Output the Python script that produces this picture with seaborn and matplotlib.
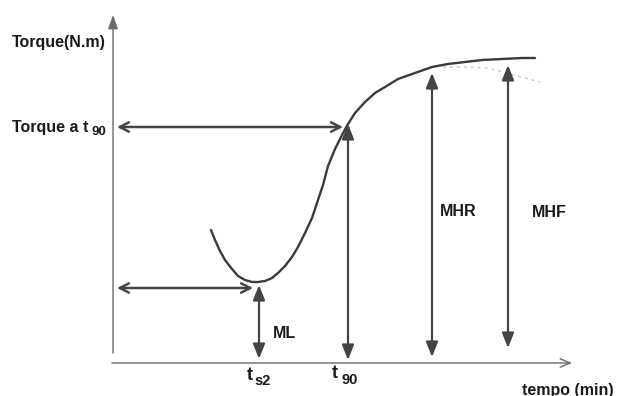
import matplotlib
matplotlib.use("Agg")
import matplotlib.pyplot as plt
import seaborn as sns
import pandas as pd

# Rheometer cure curve (schematic units)
time_min = [9.8, 10.2, 10.7, 11.2, 11.9, 12.5, 13.2, 13.9, 14.5, 15.2, 15.9,
            16.5, 17.2, 17.9, 18.5, 19.2, 19.9, 20.5, 21.0, 21.5, 22.2, 22.9,
            23.5, 24.2, 25.2, 26.2, 27.2, 28.5, 30.2, 31.9, 33.5, 35.2, 36.9,
            38.9, 40.9, 42.2]
torque = [13.3, 12.3, 11.2, 10.3, 9.4, 8.7, 8.3, 8.1, 8.1, 8.2, 8.5,
          9.0, 9.7, 10.6, 11.6, 13.0, 14.5, 16.3, 17.8, 19.7, 21.4, 22.8,
          23.9, 25.0, 26.1, 27.0, 27.6, 28.4, 29.0, 29.6, 29.9, 30.1, 30.3,
          30.4, 30.5, 30.5]

# Faint reversion trace under the plateau
rev_time = [33.0, 35.2, 37.4, 39.0, 40.4, 42.7]
rev_torque = [29.6, 29.6, 29.5, 29.1, 28.7, 28.1]

# Characteristic points
ts2 = 14.6
t90 = 23.5
ml = 7.8
torque_t90 = 23.6
mhr_time, mhr = 31.9, 29.0
mhf_time, mhf = 39.5, 29.8

sns.set_theme(style="white")
plt.rcParams["font.family"] = ["Liberation Sans", "DejaVu Sans"]

fig = plt.figure(figsize=(6.17, 3.96), dpi=100)
ax = fig.add_axes([0, 0, 1, 1])
ax.set_xlim(-11.3, 50.4)
ax.set_ylim(-3.3, 36.3)
ax.axis("off")

df = pd.DataFrame({"tempo": time_min, "torque": torque})
sns.lineplot(data=df, x="tempo", y="torque", ax=ax, color="#3a3a3a",
             linewidth=1.7, sort=False)
ax.plot(rev_time, rev_torque, color="#c4c4c4", linewidth=1.0,
        linestyle=(0, (2, 3)))

axis_col = "#6a6a6a"
# Coordinate axes
ax.annotate("", xy=(0, 34.8), xytext=(0, 1.0),
            arrowprops=dict(arrowstyle="-|>,head_length=0.7,head_width=0.25",
                            color=axis_col, lw=1.0, shrinkA=0, shrinkB=0))
ax.annotate("", xy=(45.9, 0), xytext=(-0.1, 0),
            arrowprops=dict(arrowstyle="->,head_length=0.6,head_width=0.25",
                            color=axis_col, lw=1.0, shrinkA=0, shrinkB=0))

arrow_col = "#444444"
h_style = dict(arrowstyle="<->,head_length=0.55,head_width=0.28",
               color=arrow_col, lw=1.8, shrinkA=0, shrinkB=0)
v_style = dict(arrowstyle="<|-|>,head_length=0.75,head_width=0.3",
               color=arrow_col, lw=1.6, shrinkA=0, shrinkB=0)

# Horizontal markers for torque at t90 and minimum torque
ax.annotate("", xy=(23.0, torque_t90), xytext=(0.4, torque_t90), arrowprops=h_style)
ax.annotate("", xy=(14.0, ml - 0.3), xytext=(0.4, ml - 0.3), arrowprops=h_style)

# Vertical markers
ax.annotate("", xy=(ts2, ml), xytext=(ts2, 0.4), arrowprops=v_style)
ax.annotate("", xy=(t90, torque_t90 + 0.3), xytext=(t90, 0.3), arrowprops=v_style)
ax.annotate("", xy=(mhr_time, mhr), xytext=(mhr_time, 0.6), arrowprops=v_style)
ax.annotate("", xy=(mhf_time, mhf), xytext=(mhf_time, 1.5), arrowprops=v_style)

fs = 11.5
ink = "#1a1a1a"
txt = dict(fontsize=fs, fontweight="bold", color=ink, va="center", ha="left")
sub = dict(fontsize=10.5, fontweight="bold", color=ink, va="center", ha="left")
ax.text(-10.1, 32.0, "Torque(N.m)", **txt)
ax.text(-10.1, 23.5, "Torque a t", **txt)
ax.text(-2.2, 23.1, "90", fontsize=9.5, fontweight="bold", color=ink,
        va="center", ha="left")
ax.text(16.0, 3.0, "ML", **txt)
ax.text(32.7, 15.1, "MHR", **txt)
ax.text(41.9, 15.0, "MHF", **txt)

# Time markers on the abscissa
ax.text(13.4, -1.3, "t", fontsize=13, fontweight="bold", color=ink, va="center", ha="left")
ax.text(14.1, -1.8, "s2", **sub)
ax.text(21.9, -1.1, "t", fontsize=13, fontweight="bold", color=ink, va="center", ha="left")
ax.text(22.8, -1.7, "90", **sub)
ax.text(40.9, -2.7, "tempo (min)", **txt)

fig.savefig("out.png", dpi=100, facecolor="white")
